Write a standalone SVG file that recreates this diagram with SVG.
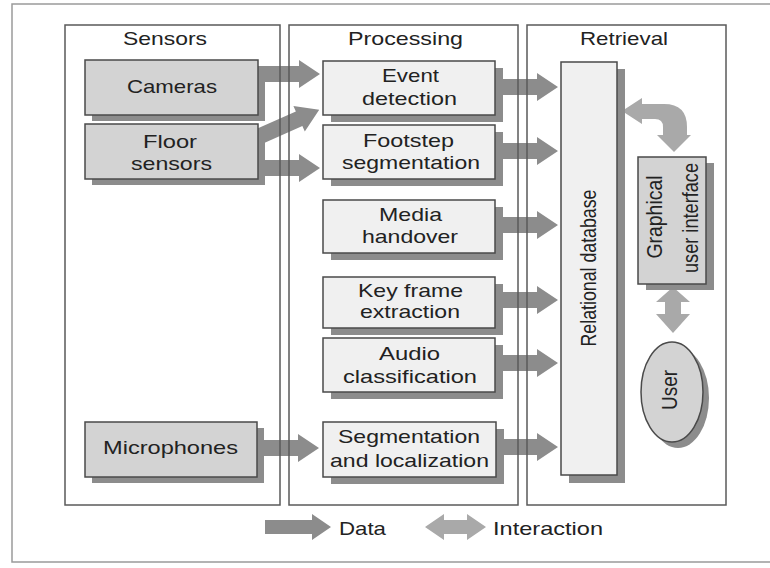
<svg xmlns="http://www.w3.org/2000/svg" width="770" height="568" viewBox="0 0 770 568">
<style>
  .frame { fill: none; stroke: #9a9a9a; stroke-width: 1.5; }
  .panel { fill: none; stroke: #5a5a5a; stroke-width: 1.5; }
  .shadow { fill: #8c8c8c; }
  .gbox { fill: #d3d3d3; stroke: #4a4a4a; stroke-width: 1.5; }
  .lbox { fill: #f0f0f0; stroke: #4a4a4a; stroke-width: 1.5; }
  .data { fill: #8c8c8c; }
  .inter { fill: #a9a9a9; }
  text { font-family: "Liberation Sans", Arial, sans-serif; font-size: 19px; fill: #222; text-anchor: middle; }
  .title { font-size: 19px; }
</style>
<rect x="0" y="0" width="770" height="568" fill="#ffffff"/>
<rect class="frame" x="12" y="4" width="800" height="558"/>

<g id="connectors">
  <polygon class="data" points="258,66 299,66 299,60 320,74 299,88 299,82 258,82"/>
  <polygon class="data" points="-6,-8 45,-8 45,-14 67,0 45,14 45,8 -6,8" transform="translate(258,137) rotate(-24)"/>
  <polygon class="data" points="258,160 299,160 299,154 320,168 299,182 299,176 258,176"/>
  <polygon class="data" points="257,440 298,440 298,434 319,448 298,462 298,456 257,456"/>
  <polygon class="data" points="495,79 537,79 537,73 558,87 537,101 537,95 495,95"/>
  <polygon class="data" points="495,143 537,143 537,137 558,151 537,165 537,159 495,159"/>
  <polygon class="data" points="495,217 537,217 537,211 558,225 537,239 537,233 495,233"/>
  <polygon class="data" points="495,292 537,292 537,286 558,300 537,314 537,308 495,308"/>
  <polygon class="data" points="495,355 537,355 537,349 558,363 537,377 537,371 495,371"/>
  <polygon class="data" points="495,439 537,439 537,433 558,447 537,461 537,455 495,455"/>
  <path class="inter" d="M622,111 L642,98 L642,104 L664,104 Q687,104 687,127 L687,135 L691,135 L674,152 L657,135 L663,135 L663,127 Q663,119 655,119 L642,119 L642,124 Z"/>
  <polygon class="inter" points="673,287 690,302 681,302 681,314 690,314 673,333 656,314 665,314 665,302 656,302"/>
</g>

<g id="panel-sensors">
  <rect class="panel" x="65" y="25" width="215" height="480"/>
  <text class="title" x="165" y="45" textLength="84" lengthAdjust="spacingAndGlyphs">Sensors</text>
</g>
<g id="panel-processing">
  <rect class="panel" x="289" y="25" width="229" height="480"/>
  <text class="title" x="405.5" y="45" textLength="115" lengthAdjust="spacingAndGlyphs">Processing</text>
</g>
<g id="panel-retrieval">
  <rect class="panel" x="527" y="25" width="199" height="480"/>
  <text class="title" x="624" y="45" textLength="88" lengthAdjust="spacingAndGlyphs">Retrieval</text>
</g>

<g id="cameras">
  <rect class="shadow" x="92" y="66" width="173" height="55"/>
  <rect class="gbox" x="85" y="60" width="173" height="55"/>
  <text x="172" y="93" textLength="90" lengthAdjust="spacingAndGlyphs">Cameras</text>
</g>
<g id="floor-sensors">
  <rect class="shadow" x="92" y="130" width="173" height="55"/>
  <rect class="gbox" x="85" y="124" width="173" height="55"/>
  <text x="170" y="148" textLength="54" lengthAdjust="spacingAndGlyphs">Floor</text>
  <text x="171.5" y="170" textLength="81" lengthAdjust="spacingAndGlyphs">sensors</text>
</g>
<g id="microphones">
  <rect class="shadow" x="92" y="428" width="172" height="55"/>
  <rect class="gbox" x="85" y="422" width="172" height="55"/>
  <text x="170.5" y="454" textLength="135" lengthAdjust="spacingAndGlyphs">Microphones</text>
</g>

<g id="event-detection">
  <rect class="shadow" x="331" y="68" width="172" height="54"/>
  <rect class="lbox" x="323" y="61" width="172" height="54"/>
  <text x="410.5" y="82" textLength="57" lengthAdjust="spacingAndGlyphs">Event</text>
  <text x="409.5" y="105" textLength="95" lengthAdjust="spacingAndGlyphs">detection</text>
</g>
<g id="footstep-segmentation">
  <rect class="shadow" x="331" y="132" width="172" height="54"/>
  <rect class="lbox" x="323" y="125" width="172" height="54"/>
  <text x="408.5" y="147" textLength="91" lengthAdjust="spacingAndGlyphs">Footstep</text>
  <text x="411" y="169" textLength="138" lengthAdjust="spacingAndGlyphs">segmentation</text>
</g>
<g id="media-handover">
  <rect class="shadow" x="331" y="207" width="172" height="53"/>
  <rect class="lbox" x="323" y="200" width="172" height="53"/>
  <text x="410.5" y="221" textLength="63" lengthAdjust="spacingAndGlyphs">Media</text>
  <text x="410" y="243" textLength="96" lengthAdjust="spacingAndGlyphs">handover</text>
</g>
<g id="key-frame-extraction">
  <rect class="shadow" x="331" y="284" width="172" height="51"/>
  <rect class="lbox" x="323" y="277" width="172" height="51"/>
  <text x="410.5" y="297" textLength="105" lengthAdjust="spacingAndGlyphs">Key frame</text>
  <text x="410" y="318" textLength="100" lengthAdjust="spacingAndGlyphs">extraction</text>
</g>
<g id="audio-classification">
  <rect class="shadow" x="331" y="345" width="172" height="54"/>
  <rect class="lbox" x="323" y="338" width="172" height="54"/>
  <text x="409.5" y="360" textLength="61" lengthAdjust="spacingAndGlyphs">Audio</text>
  <text x="410" y="383" textLength="134" lengthAdjust="spacingAndGlyphs">classification</text>
</g>
<g id="segmentation-localization">
  <rect class="shadow" x="331" y="429" width="173" height="55"/>
  <rect class="lbox" x="323" y="422" width="173" height="55"/>
  <text x="409" y="443" textLength="142" lengthAdjust="spacingAndGlyphs">Segmentation</text>
  <text x="409.5" y="467" textLength="159" lengthAdjust="spacingAndGlyphs">and localization</text>
</g>

<g id="relational-database">
  <rect class="shadow" x="569" y="69" width="56" height="414"/>
  <rect class="lbox" x="561" y="62" width="56" height="413"/>
  <text transform="translate(596,268) scale(1.2,1) rotate(-90)" x="0" y="0" font-size="17" textLength="157" lengthAdjust="spacingAndGlyphs">Relational database</text>
</g>
<g id="gui">
  <rect class="shadow" x="646" y="163" width="68" height="127"/>
  <rect class="gbox" x="638" y="157" width="68" height="127"/>
  <text transform="translate(662,217) scale(1.2,1) rotate(-90)" x="0" y="0" font-size="17" textLength="83" lengthAdjust="spacingAndGlyphs">Graphical</text>
  <text transform="translate(698,218) scale(1.2,1) rotate(-90)" x="0" y="0" font-size="17" textLength="110" lengthAdjust="spacingAndGlyphs">user interface</text>
</g>
<g id="user">
  <ellipse class="shadow" cx="678" cy="398" rx="31" ry="50"/>
  <ellipse class="gbox" cx="672" cy="392" rx="31" ry="50"/>
  <text transform="translate(677,390) scale(1.2,1) rotate(-90)" x="0" y="0" font-size="17" textLength="40" lengthAdjust="spacingAndGlyphs">User</text>
</g>

<g id="legend">
  <polygon class="data" points="265,520 312,520 312,514 331,527 312,540 312,534 265,534"/>
  <text x="362.5" y="535" textLength="47" lengthAdjust="spacingAndGlyphs">Data</text>
  <polygon class="inter" points="425,527 444,514 444,520 467,520 467,514 486,527 467,540 467,534 444,534 444,540"/>
  <text x="548" y="535" textLength="110" lengthAdjust="spacingAndGlyphs">Interaction</text>
</g>
</svg>
